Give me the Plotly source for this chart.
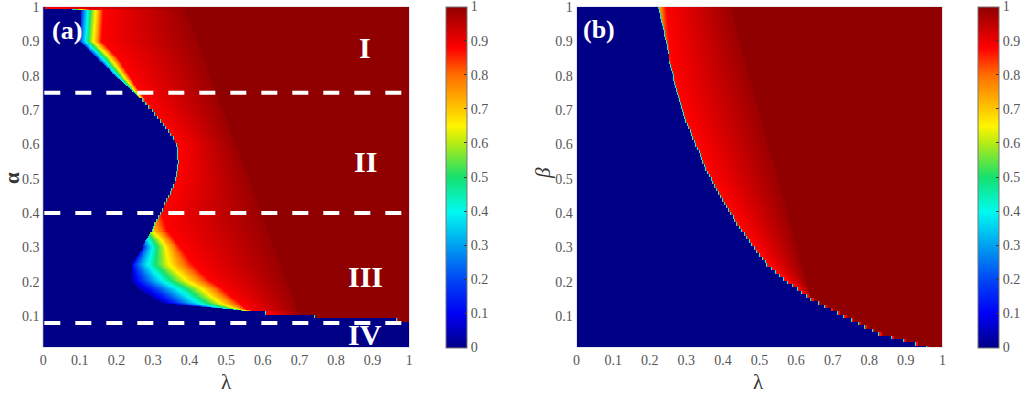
import numpy as np
import plotly.graph_objects as go

# ---------------- data ----------------
# panel (a): rows alpha, boundary lambda where the ordered phase starts
alpha_pts = [1.00, 0.99, 0.95, 0.90, 0.85, 0.80, 0.75, 0.70, 0.65, 0.60, 0.55, 0.50, 0.45, 0.40,
             0.35, 0.32, 0.30, 0.25, 0.20, 0.18, 0.16, 0.14, 0.13, 0.12, 0.11, 0.10, 0.09, 0.08]
edge_a = [0.005, 0.105, 0.103, 0.100, 0.150, 0.197, 0.250, 0.296, 0.335, 0.365, 0.368, 0.362, 0.342, 0.318,
          0.296, 0.280, 0.272, 0.243, 0.245, 0.260, 0.290, 0.320, 0.400, 0.520, 0.607, 0.740, 0.964, 2.0]
start_a = [0.86, 0.15, 0.15, 0.15, 0.18, 0.25, 0.45, 0.86, 0.86, 0.86, 0.86, 0.86, 0.86, 0.86,
           0.65, 0.30, 0.10, 0.05, 0.04, 0.04, 0.04, 0.04, 0.10, 0.40, 0.86, 0.86, 0.86, 0.86]
red_a = [0.010, 0.165, 0.163, 0.160, 0.205, 0.235, 0.265, 0.300, 0.340, 0.370, 0.373, 0.367, 0.347, 0.323,
         0.340, 0.360, 0.375, 0.410, 0.460, 0.490, 0.510, 0.535, 0.545, 0.555, 0.612, 0.745, 0.970, 2.0]
shape_a = [0.8, 0.8, 0.8, 0.8, 0.8, 0.8, 0.8, 0.8, 0.8, 0.8, 0.8, 0.8, 0.8, 0.8,
           0.8, 0.8, 0.7, 0.65, 0.9, 1.1, 1.1, 1.1, 1.0, 0.9, 0.8, 0.8, 0.8, 0.8]
seam_a_alpha = [0.10, 1.00]
seam_a_lam = [0.700, 0.386]

# panel (b): rows beta
beta_pts = [1.00, 0.93, 0.83, 0.75, 0.67, 0.60, 0.52, 0.44, 0.36, 0.30, 0.25, 0.20, 0.15, 0.10, 0.05, 0.02, 0.01]
edge_b = [0.224, 0.238, 0.256, 0.274, 0.297, 0.325, 0.356, 0.397, 0.443, 0.484, 0.520, 0.575, 0.640,
          0.730, 0.825, 0.925, 0.955]
start_b = [0.70, 0.80, 0.86, 0.86, 0.86, 0.86, 0.86, 0.86, 0.86, 0.86, 0.86, 0.86, 0.86, 0.86, 0.86, 0.86, 0.86]
red_b = [0.245, 0.250, 0.264, 0.282, 0.305, 0.333, 0.364, 0.405, 0.451, 0.492, 0.528, 0.583, 0.648,
         0.738, 0.833, 0.933, 0.963]
shape_b = [0.8] * len(beta_pts)
seam_b_beta = [0.15, 1.00]
seam_b_lam = [0.640, 0.420]

dash_levels = [0.75, 0.40, 0.08]
regions = ["I", "II", "III", "IV"]
region_alpha = [0.882, 0.551, 0.214, 0.045]
region_lam = [0.88, 0.88, 0.88, 0.88]

tick_vals = [0.0, 0.1, 0.2, 0.3, 0.4, 0.5, 0.6, 0.7, 0.8, 0.9, 1.0]
tick_text = ["0", "0.1", "0.2", "0.3", "0.4", "0.5", "0.6", "0.7", "0.8", "0.9", "1"]

# ---------------- grid construction ----------------
lam = np.round(np.linspace(0, 1, 401), 4)
rows = np.round(np.arange(4, 401) * 0.0025, 4)


def build(pts, edge, start, red, shape, seam_r, seam_l):
    p = np.array(pts)[::-1]
    ed = np.array(edge)[::-1]
    st = np.array(start)[::-1]
    rd = np.array(red)[::-1]
    sh = np.array(shape)[::-1]
    Z = np.zeros((len(rows), len(lam)))
    for i, rv in enumerate(rows):
        coarse = round(rv + 1e-9, 2)
        s_c = np.interp(coarse, p, st)
        ref = coarse if s_c >= 0.6 else rv   # sharp rows keep the 0.01 staircase
        e = np.interp(ref, p, ed)
        s = np.interp(ref, p, st)
        r = np.interp(ref, p, rd)
        k = np.interp(ref, p, sh)
        f = np.interp(rv, seam_r, seam_l)
        z = np.zeros_like(lam)
        m1 = (lam >= e) & (lam < r)
        if r > e:
            t = (lam[m1] - e) / (r - e)
            z[m1] = s + (0.88 - s) * t ** k
        m2 = (lam >= r) & (lam < f)
        if f > r:
            z[m2] = 0.88 + 0.11 * (lam[m2] - r) / (f - r)
        z[lam >= max(f, r)] = 1.0
        idx = np.where(lam >= e)[0]
        if len(idx) and s >= 0.6 and e > 0.05:
            z[idx[0]] = 0.42
        Z[i] = z
    return Z


Za = build(alpha_pts, edge_a, start_a, red_a, shape_a, seam_a_alpha, seam_a_lam)
Zb = build(beta_pts, edge_b, start_b, red_b, shape_b, seam_b_beta, seam_b_lam)

cscale = [[0.0, "rgb(0,0,135)"], [0.1, "rgb(0,0,245)"], [0.2, "rgb(0,70,245)"],
          [0.3, "rgb(0,160,240)"], [0.4, "rgb(0,250,240)"], [0.5, "rgb(20,225,110)"],
          [0.6, "rgb(180,235,20)"], [0.65, "rgb(255,245,0)"], [0.7, "rgb(255,200,0)"],
          [0.8, "rgb(255,110,0)"], [0.88, "rgb(255,0,0)"], [1.0, "rgb(145,0,0)"]]

W, H = 1024, 394
top_px, bot_px = 7, 347
ydom = [1 - bot_px / H, 1 - top_px / H]
FONT = "Liberation Serif"
tickfont = dict(family=FONT, size=14, color="#555555")
cb_vals = tick_vals[:-1] + [0.9999]


def cbar(x_px):
    return dict(x=x_px / W, xanchor="left", xpad=0, ypad=0,
                y=1 - (top_px + bot_px) / 2 / H, yanchor="middle",
                len=bot_px - top_px + 1, lenmode="pixels",
                thickness=21, thicknessmode="pixels",
                outlinewidth=1, outlinecolor="#777777",
                tickvals=cb_vals, ticktext=tick_text, ticks="inside", ticklen=3,
                tickcolor="#333333", tickfont=tickfont, ticklabeloverflow="allow")


fig = go.Figure()
fig.add_trace(go.Heatmap(x=lam, y=rows, z=Za, zmin=0, zmax=1, colorscale=cscale,
                         zsmooth=False, colorbar=cbar(447), xaxis="x", yaxis="y",
                         hoverinfo="skip"))
fig.add_trace(go.Heatmap(x=lam, y=rows, z=Zb, zmin=0, zmax=1, colorscale=cscale,
                         zsmooth=False, colorbar=cbar(980), xaxis="x2", yaxis="y2",
                         hoverinfo="skip"))

axcommon = dict(range=[0, 1], showgrid=False, zeroline=False, ticks="",
                tickvals=tick_vals, ticktext=tick_text, tickfont=tickfont,
                showline=True, linecolor="#e6e6f0", linewidth=1, mirror=True,
                automargin=False, ticklabeloverflow="allow")
yvals = tick_vals[1:]
ytext = tick_text[1:]
yax = dict(showgrid=False, zeroline=False, ticks="",
           range=[0.01, 1], tickvals=yvals, ticktext=ytext, tickfont=tickfont,
           showline=True, linecolor="#e6e6f0", linewidth=1, mirror=True,
           automargin=False, ticklabeloverflow="allow")
fig.update_layout(
    width=W, height=H, autosize=False,
    margin=dict(l=0, r=0, t=0, b=0),
    paper_bgcolor="white", plot_bgcolor="white",
    xaxis=dict(domain=[43.3 / W, 410 / W], anchor="y", **axcommon),
    xaxis2=dict(domain=[577.7 / W, 944.3 / W], anchor="y2", **axcommon),
    yaxis=dict(domain=ydom, anchor="x", **yax),
    yaxis2=dict(domain=ydom, anchor="x2", **yax),
    showlegend=False,
)

for lv in dash_levels:
    fig.add_shape(type="line", xref="x", yref="y", x0=0.003, x1=1.0, y0=lv, y1=lv,
                  line=dict(color="white", width=4, dash="16px,15px"))

ctr = dict(xanchor="center", yanchor="middle", showarrow=False)
for name, ra, rl in zip(regions, region_alpha, region_lam):
    fig.add_annotation(xref="x", yref="y", x=rl, y=ra, text="<b>" + name + "</b>",
                       font=dict(family=FONT, size=30, color="white"), **ctr)

fig.add_annotation(xref="paper", yref="paper", x=67 / W, y=1 - 30 / H, text="<b>(a)</b>",
                   font=dict(family=FONT, size=26, color="white"), **ctr)
fig.add_annotation(xref="paper", yref="paper", x=600 / W, y=1 - 29 / H, text="<b>(b)</b>",
                   font=dict(family=FONT, size=26, color="white"), **ctr)

lab = dict(family=FONT, size=21, color="#333333")
fig.add_annotation(xref="paper", yref="paper", x=227 / W, y=1 - 382 / H, text="λ",
                   font=lab, **ctr)
fig.add_annotation(xref="paper", yref="paper", x=760 / W, y=1 - 382 / H, text="λ",
                   font=lab, **ctr)
fig.add_annotation(xref="paper", yref="paper", x=12 / W, y=1 - 178 / H, text="<b>α</b>",
                   textangle=-90, font=lab, **ctr)
fig.add_annotation(xref="paper", yref="paper", x=544 / W, y=1 - 173 / H, text="<i>β</i>",
                   textangle=-90, font=lab, **ctr)

fig.write_html("out.html", config={"displayModeBar": False, "staticPlot": True},
               post_script="document.body.style.margin='0';document.body.style.overflow='hidden';")
